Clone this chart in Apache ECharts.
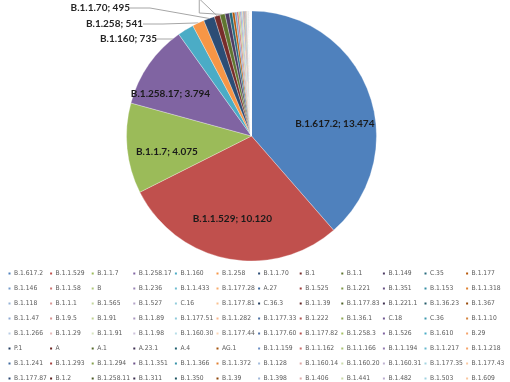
<!DOCTYPE html>
<html>
<head>
<meta charset="utf-8">
<script src="https://cdn.jsdelivr.net/npm/echarts@6/dist/echarts.min.js"></script>
<style>html,body{margin:0;padding:0;background:#fff;}#c{width:510px;height:382px;}</style>
</head>
<body>
<div id="c"></div>
<script>
const categories = [
 'B.1.617.2','B.1.1.529','B.1.1.7','B.1.258.17','B.1.160','B.1.258','B.1.1.70','B.1','B.1.1','B.1.149','C.35','B.1.177',
 'B.1.146','B.1.1.58','B','B.1.236','B.1.1.433','B.1.177.28','A.27','B.1.525','B.1.221','B.1.351','B.1.153','B.1.1.318',
 'B.1.118','B.1.1.1','B.1.565','B.1.527','C.16','B.1.177.81','C.36.3','B.1.1.39','B.1.177.83','B.1.221.1','B.1.36.23','B.1.367',
 'B.1.1.47','B.1.9.5','B.1.91','B.1.1.89','B.1.177.51','B.1.1.282','B.1.177.33','B.1.222','B.1.36.1','C.18','C.36','B.1.1.10',
 'B.1.1.266','B.1.1.29','B.1.1.91','B.1.1.98','B.1.160.30','B.1.177.44','B.1.177.60','B.1.177.82','B.1.258.3','B.1.526','B.1.610','B.29',
 'P.1','A','A.1','A.23.1','A.4','AG.1','B.1.1.159','B.1.1.162','B.1.1.166','B.1.1.194','B.1.1.217','B.1.1.218',
 'B.1.1.241','B.1.1.293','B.1.1.294','B.1.1.351','B.1.1.366','B.1.1.372','B.1.128','B.1.160.14','B.1.160.20','B.1.160.31','B.1.177.35','B.1.177.43',
 'B.1.177.87','B.1.2','B.1.258.11','B.1.311','B.1.350','B.1.39','B.1.398','B.1.406','B.1.441','B.1.482','B.1.503','B.1.609'
];
const values = [
 13474,10120,4075,3794,735,541,495,260,230,190,140,110,
 90,80,65,55,48,42,36,32,28,28,24,20,
 12,11,10,9,9,8,8,6,6,6,6,6,
 5,5,5,4,4,3,3,3,3,3,3,2,
 2,2,2,2,2,2,2,2,2,2,2,2,
 2,1,1,1,1,1,1,1,1,1,1,1,
 1,1,1,1,1,1,1,1,1,1,1,1,
 1,1,1,1,1,1,1,1,1,1,1,1
];
const insideLabels = ['B.1.617.2','B.1.1.529','B.1.1.7','B.1.258.17'];
const outsideLabels = ['B.1.160','B.1.258','B.1.1.70','B.1','B.1.1'];

const palette = [
 '#4F81BD','#C0504D','#9BBB59','#8064A2','#4BACC6','#F79646',
 '#2C4D75','#772C2A','#5F7530','#4D3B62','#276A7C','#B65708',
 '#729ACA','#CD7371','#AFC97A','#9983B5','#6FBDD1','#F9AB6B',
 '#3A679C','#9E3A38','#7E9A48','#664F83','#358EA4','#E0802E',
 '#95B3D7','#D99694','#C3D69B','#B3A2C7','#92CDDC','#FAC08F',
 '#243F60','#632423','#4F6228','#3F3151','#205867','#974806',
 '#8DA9D3','#D68F8D','#BDD18E','#A895BE','#8FCADB','#F8B58A',
 '#4A6FA0','#B0504D','#8CA852','#6F5691','#3D98AE','#D5823B',
 '#B9CDE5','#E6B9B8','#D7E4BD','#CCC1DA','#B7DEE8','#FCD5B5',
 '#4F72A8','#B8504E','#A5C263','#7F62A0','#4BACC6','#F5A36A',
 '#1F3A5F','#6B2220','#566B2C','#3E2F52','#1F5E6E','#A4510A',
 '#6A8EC4','#CB6B69','#A8C472','#9279B0','#67B8CE','#F8A569',
 '#3F6AA0','#A5403E','#839F4B','#6B5088','#3792A8','#E07E2F',
 '#A3BCDD','#DDA4A2','#CADCA9','#BEB1D1','#A2D5E2','#FBC8A0',
 '#274470','#5C1F1D','#4A5A25','#3A2C4C','#1C5361','#8E4306',
 '#9FB7D9','#DFA8A7','#C8DAA5','#BBADD0','#A0D3E1','#FAC69E'
];

// label placement tweaks (annotation styling only)
const insideOffset = {'B.1.617.2':[0,19],'B.1.1.529':[-2,-5],'B.1.1.7':[4,7],'B.1.258.17':[-8,9]};
const outsidePlace = {'B.1.160':[157,39],'B.1.258':[143,24],'B.1.1.70':[130,8],'B.1':[168,-12],'B.1.1':[222,-12]};

function fmt(v){ return String(v).replace(/\B(?=(\d{3})+(?!\d))/g,'.'); }

// legend laid out as a fixed 12-column grid
const LEG_COLS = 12, LEG_LEFT = 6.5, LEG_TOP = 270, LEG_DX = 41.6, LEG_DY = 15;
const legends = categories.map((n,i)=>({
  data:[n], icon:'rect', itemWidth:4, itemHeight:4, padding:0,
  left: LEG_LEFT + (i % LEG_COLS) * LEG_DX,
  top: LEG_TOP + Math.floor(i / LEG_COLS) * LEG_DY,
  textStyle:{fontFamily:"'Liberation Sans Narrow','DejaVu Sans Condensed','Roboto Condensed',sans-serif",
    fontSize:6.7, color:'#595959', padding:[0,0,0,-2.5]}
}));

const chart = echarts.init(document.getElementById('c'), null, {renderer:'canvas'});
const mainData = categories.map((n,i)=>({
  name:n, value:values[i],
  label:{show: outsideLabels.indexOf(n)>=0},
  labelLine:{show: outsideLabels.indexOf(n)>=0}
}));
const ghostData = categories.map((n,i)=>({
  name:n, value:values[i],
  label: insideLabels.indexOf(n)>=0 ? {show:true, offset: insideOffset[n]} : {show:false}
}));
chart.setOption({
  animation:false,
  color: palette,
  legend: legends,
  series:[
    {
      type:'pie', center:[251.5,136], radius:125, startAngle:90, clockwise:true,
      avoidLabelOverlap:false, silent:true,
      itemStyle:{borderColor:'#fff', borderWidth:0.3},
      label:{position:'outside', fontFamily:'Lato', fontWeight:'bold', fontSize:10, color:'#262626',
        formatter:p=>p.name+'; '+fmt(p.value)},
      labelLine:{length:8, length2:20, lineStyle:{color:'#A6A6A6', width:1}},
      labelLayout: function(p){
        const pl = outsidePlace[categories[p.dataIndex]];
        if(!pl) return {};
        return {x: pl[0], y: pl[1], align:'right', verticalAlign:'middle'};
      },
      data: mainData
    },
    {
      type:'pie', center:[251.5,136], radius:172, startAngle:90, clockwise:true,
      silent:true, avoidLabelOverlap:false, legendHoverLink:false,
      itemStyle:{color:'rgba(0,0,0,0)'},
      label:{position:'inside', fontFamily:'Lato', fontWeight:'bold', fontSize:10, color:'#1a1a1a',
        formatter:p=>p.name+'; '+fmt(p.value)},
      labelLine:{show:false},
      data: ghostData
    }
  ]
});
</script>
</body>
</html>
